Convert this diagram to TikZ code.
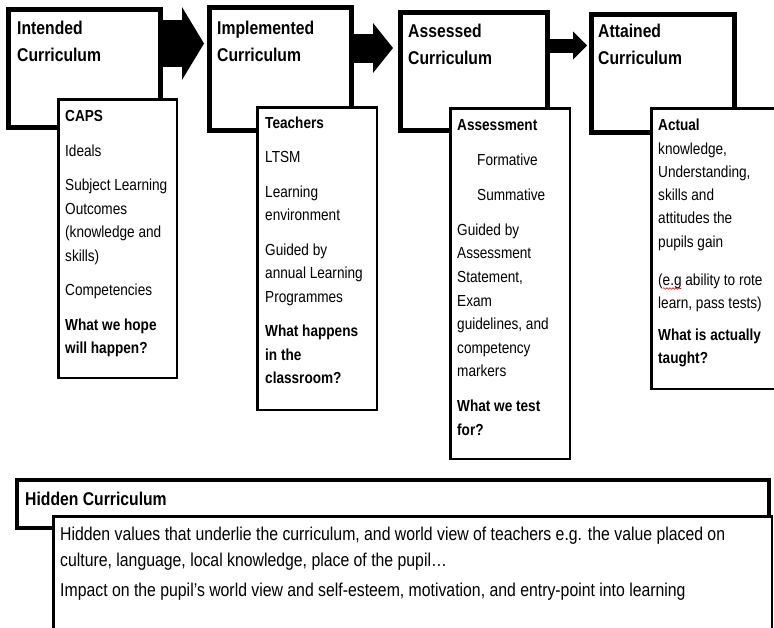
\documentclass[tikz,border=0pt]{standalone}
\usepackage{fontspec}
\setmainfont{Liberation Sans}[FakeStretch=0.85]
\usetikzlibrary{arrows.meta, decorations.pathmorphing}

\begin{document}
\begin{tikzpicture}[
        x=1pt, y=-1pt,
        bigbox/.style={draw, line width=5pt, fill=white, inner sep=0pt, outer sep=0pt, anchor=north west},
        smallbox/.style={draw, line width=2.5pt, fill=white, inner sep=0pt, outer sep=0pt, anchor=north west},
        heading/.style={anchor=north west, inner sep=0pt, align=left, font=\fontsize{18.5}{27.5}\selectfont\bfseries},
        body/.style={anchor=north west, inner sep=0pt, align=left, font=\fontsize{16}{23.5}\selectfont}
    ]
        \path[use as bounding box, clip] (0,0) rectangle (774,627);

        % Four curriculum boxes
        \node[bigbox, minimum width=152pt, minimum height=118pt] (intended) at (8.5,9.5) {};
        \node[bigbox, minimum width=142pt, minimum height=123pt] (implemented) at (209.5,7.5) {};
        \node[bigbox, minimum width=147pt, minimum height=118pt] (assessed) at (400.5,12.5) {};
        \node[bigbox, minimum width=143pt, minimum height=118pt] (attained) at (591.5,14.5) {};
        \node[heading] (intendedtitle) at ([shift={(8.5,11.2)}]intended.north west) {Intended\\Curriculum};
        \node[heading] (implementedtitle) at ([shift={(7.5,13.2)}]implemented.north west) {Implemented\\Curriculum};
        \node[heading] (assessedtitle) at ([shift={(7.5,11.2)}]assessed.north west) {Assessed\\Curriculum};
        \node[heading] (attainedtitle) at ([shift={(6.5,9.2)}]attained.north west) {Attained\\Curriculum};

        % Block arrows between them
        \draw[line width=47pt, -{Triangle[length=22pt, width=73pt, line width=0pt]}, shorten >=5.5pt] (intended.east |- 0,43.5) -- (implemented.west |- 0,43.5);
        \draw[line width=29pt, -{Triangle[length=20pt, width=50pt, line width=0pt]}, shorten >=7.5pt] (implemented.east |- 0,48) -- (assessed.west |- 0,48);
        \draw[line width=14pt, -{Triangle[length=14pt, width=28pt, line width=0pt]}, shorten >=4.5pt] (assessed.east |- 0,45.5) -- (attained.west |- 0,45.5);

        % Detail boxes
        \node[smallbox, minimum width=118.5pt, minimum height=278.5pt] (caps) at (58.25,99.25) {};
        \node[body] (capstext) at ([shift={(6.75,11.15)}]caps.north west) {\textbf{CAPS}\\[11pt]
            Ideals\\[11pt]
            Subject Learning\\Outcomes\\(knowledge and\\skills)\\[11pt]
            Competencies\\[11pt]
            \textbf{What we hope}\\\textbf{will happen?}};

        \node[smallbox, minimum width=119.5pt, minimum height=302.5pt] (teachers) at (257.25,107.25) {};
        \node[body] (teacherstext) at ([shift={(7.75,9.15)}]teachers.north west) {\textbf{Teachers}\\[11pt]
            LTSM\\[11pt]
            Learning\\environment\\[11pt]
            Guided by\\annual Learning\\Programmes\\[11pt]
            \textbf{What happens}\\\textbf{in the}\\\textbf{classroom?}};

        \node[smallbox, minimum width=119.5pt, minimum height=350.5pt] (assessment) at (450.25,108.25) {};
        \node[body, font=\fontsize{16}{23.6}\selectfont] (assessmenttext) at ([shift={(6.75,10.75)}]assessment.north west) {\textbf{Assessment}\\[11.4pt]
            \hspace*{20pt}Formative\\[11.4pt]
            \hspace*{20pt}Summative\\[11.4pt]
            Guided by\\Assessment\\Statement,\\Exam\\guidelines, and\\competency\\markers\\[11.4pt]
            \textbf{What we test}\\\textbf{for?}};

        \node[smallbox, minimum width=130pt, minimum height=280.5pt] (actual) at (651.25,108.25) {};
        \node[body, font=\fontsize{16}{23.3}\selectfont] (actualtext) at ([shift={(6.75,10.65)}]actual.north west) {\textbf{Actual}\\
            knowledge,\\Understanding,\\skills and\\attitudes the\\pupils gain\\[14.5pt]
            (e.g ability to rote\\learn, pass tests)\\[9pt]
            \textbf{What is actually}\\\textbf{taught?}};
        % spell-check squiggle under e.g
        \draw[red, line width=0.6pt, decorate, decoration={snake, amplitude=0.8pt, segment length=3pt}] (663,288.5) -- (681,288.5);

        % Hidden curriculum across the bottom
        \node[bigbox, line width=4pt, minimum width=752pt, minimum height=48pt] (hidden) at (17,480) {};
        \node[heading, font=\fontsize{18.5}{20}\selectfont\bfseries] (hiddentitle) at ([shift={(8,12)}]hidden.north west) {Hidden Curriculum};
        \node[smallbox, minimum width=718.5pt, minimum height=130pt] (hiddenbody) at (53.25,516.25) {};
        \node[body, font=\fontsize{18.6}{26}\selectfont] (hiddentext) at ([shift={(6.75,10.45)}]hiddenbody.north west) {Hidden values that underlie the curriculum, and world view of teachers e.g. the value placed on\\
            culture, language, local knowledge, place of the pupil…\\[4pt]
            Impact on the pupil’s world view and self-esteem, motivation, and entry-point into learning};
    \end{tikzpicture}
\end{document}
